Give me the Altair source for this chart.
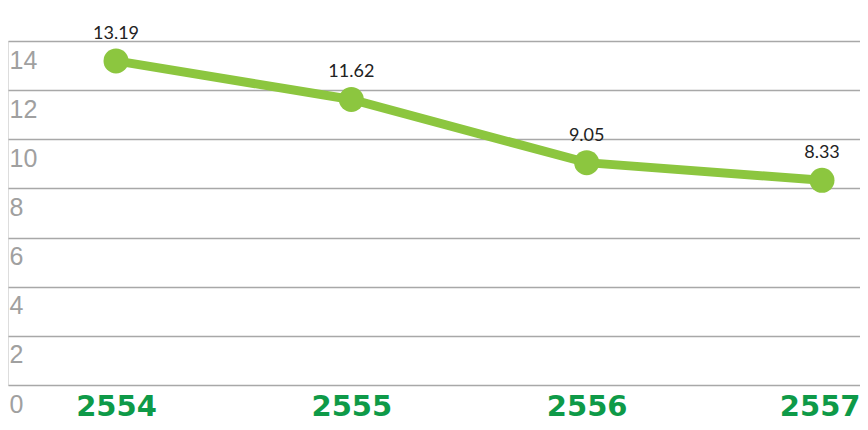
import altair as alt
import pandas as pd

years = [2554, 2555, 2556, 2557]
values = [13.19, 11.62, 9.05, 8.33]
labels = ["13.19", "11.62", "9.05", "8.33"]
y_ticks = [0, 2, 4, 6, 8, 10, 12, 14]

df = pd.DataFrame({"year": years, "value": values, "label": labels})

x_enc = alt.X(
    "year:Q",
    scale=alt.Scale(domain=[2553.541, 2557.1615], nice=False, zero=False),
    axis=alt.Axis(
        values=years, format="d", title=None, grid=False, ticks=False, domain=False,
        labelFont="DejaVu Sans", labelFontWeight="bold", labelFontSize=29,
        labelColor="#0e9a48", labelPadding=7, labelBaseline="top",
        labelAlign={"expr": "datum.value == 2557 ? 'right' : 'center'"},
        labelOffset={"expr": "datum.value == 2557 ? 38 : 0"},
    ),
)
y_enc = alt.Y(
    "value:Q",
    scale=alt.Scale(domain=[0, 14], nice=False),
    axis=alt.Axis(
        values=y_ticks, title=None, ticks=False, domain=False,
        gridColor="#a8a8a8", gridWidth=1.5, gridOpacity=1,
        labelAlign="left", labelPadding=-1, labelBaseline="middle", labelOffset=19,
        labelFont="Liberation Sans", labelFontSize=25, labelColor="#a0a0a0",
        labelFontWeight="normal",
    ),
)

base = alt.Chart(df).encode(x=x_enc, y=y_enc)

line = base.mark_line(color="#8cc63f", strokeWidth=9)
points = base.mark_point(filled=True, shape="circle", size=625, color="#8cc63f", opacity=1)
text = base.mark_text(
    dy=-22, baseline="alphabetic", align="center", fontSize=18,
    font="Lato", color="#222222",
).encode(text="label:N")

chart = (
    alt.layer(line, points, text)
    .properties(
        width=852, height=344,
        autosize=alt.AutoSizeParams(type="none"),
        padding={"left": 0, "top": 33, "right": 0, "bottom": 37},
    )
    .configure_view(stroke=None)
    .configure(background="white")
)

chart.save("out.html", embed_options={"renderer": "svg", "actions": False})
